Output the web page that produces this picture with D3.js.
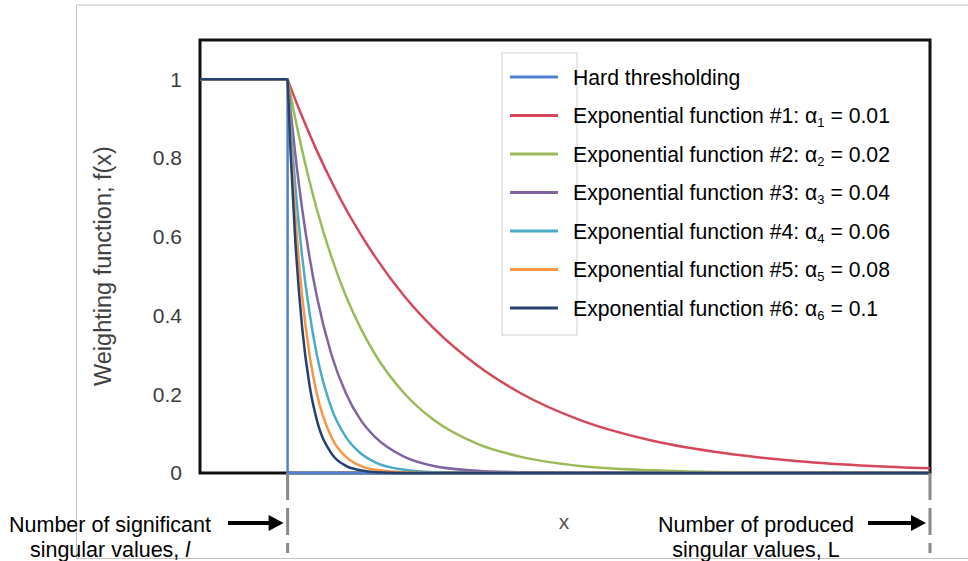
<!DOCTYPE html>
<html lang="en">
<head>
<meta charset="utf-8">
<title>Weighting function</title>
<script src="https://cdn.jsdelivr.net/npm/d3@7"></script>
<style>
  body { margin: 0; background: #fff; }
  svg { display: block; font-family: "Liberation Sans", Arial, sans-serif; }
</style>
</head>
<body>
<script>
// values
var yTicks = [0, 0.2, 0.4, 0.6, 0.8, 1];
var lSig = 60;      // number of significant singular values, l
var lAll = 500;     // number of produced singular values, L

var hardX = [0, 60, 60, 500];
var hardY = [1, 1, 0, 0];

var flatX = [0, 60];
var decayX = [60, 62, 65, 70, 75, 80, 90, 100, 110, 120, 140, 160, 190, 220, 260, 310, 360, 410, 460, 500];

var exp1 = [1, 0.980, 0.951, 0.905, 0.861, 0.819, 0.741, 0.670, 0.607, 0.549, 0.449, 0.368, 0.273, 0.202, 0.135, 0.082, 0.050, 0.030, 0.018, 0.012];
var exp2 = [1, 0.961, 0.905, 0.819, 0.741, 0.670, 0.549, 0.449, 0.368, 0.301, 0.202, 0.135, 0.074, 0.041, 0.018, 0.007, 0.002, 0.001, 0, 0];
var exp3 = [1, 0.923, 0.819, 0.670, 0.549, 0.449, 0.301, 0.202, 0.135, 0.091, 0.041, 0.018, 0.006, 0.002, 0, 0, 0, 0, 0, 0];
var exp4 = [1, 0.887, 0.741, 0.549, 0.407, 0.301, 0.165, 0.091, 0.050, 0.027, 0.008, 0.002, 0, 0, 0, 0, 0, 0, 0, 0];
var exp5 = [1, 0.852, 0.670, 0.449, 0.301, 0.202, 0.091, 0.041, 0.018, 0.008, 0.002, 0, 0, 0, 0, 0, 0, 0, 0, 0];
var exp6 = [1, 0.819, 0.607, 0.368, 0.223, 0.135, 0.050, 0.018, 0.007, 0.002, 0, 0, 0, 0, 0, 0, 0, 0, 0, 0];

var expSeries = [exp1, exp2, exp3, exp4, exp5, exp6];
var subs = ['1', '2', '3', '4', '5', '6'];
var alphas = ['0.01', '0.02', '0.04', '0.06', '0.08', '0.1'];
var colors = ['#4f81d0', '#d6475a', '#9bbb59', '#8064a2', '#4bacc6', '#f79646', '#24416f'];

var W = 968, H = 561;
var svg = d3.select('body').append('svg').attr('width', W).attr('height', H);

// outer light frame
svg.append('path')
  .attr('d', 'M968,5 H76.5 V558.5 H968')
  .attr('fill', 'none').attr('stroke', '#c4c4c4').attr('stroke-width', 1);

var x = d3.scaleLinear().domain([0, lAll]).range([200, 930]);
var y = d3.scaleLinear().domain([0, 1.1]).range([473, 40]);

// plot frame
svg.append('rect')
  .attr('x', x(0)).attr('y', y(1.1))
  .attr('width', x(lAll) - x(0)).attr('height', y(0) - y(1.1))
  .attr('fill', 'none').attr('stroke', '#111').attr('stroke-width', 3);

// y axis labels
var yAxis = svg.append('g')
  .attr('transform', 'translate(' + x(0) + ',0)')
  .call(d3.axisLeft(y).tickValues(yTicks).tickSize(0).tickPadding(18).tickFormat(d3.format('~g')));
yAxis.select('.domain').remove();
yAxis.selectAll('text')
  .attr('font-size', 21).attr('fill', '#3c3c3c')
  .attr('font-family', '"Liberation Sans", Arial, sans-serif');

svg.append('text')
  .attr('transform', 'translate(111,266) rotate(-90)')
  .attr('text-anchor', 'middle')
  .attr('font-size', 23.5).attr('fill', '#404040')
  .text('Weighting function; f(x)');

// curves
var straight = d3.line().x(function(d) { return x(d[0]); }).y(function(d) { return y(d[1]); });
var smooth = d3.line().x(function(d) { return x(d[0]); }).y(function(d) { return y(d[1]); })
  .curve(d3.curveMonotoneX);

svg.append('path')
  .attr('d', straight(d3.zip(hardX, hardY)))
  .attr('fill', 'none').attr('stroke', colors[0]).attr('stroke-width', 2.5);

expSeries.forEach(function(s, i) {
  var d = straight(flatX.map(function(v) { return [v, 1]; })) + smooth(d3.zip(decayX, s));
  svg.append('path')
    .attr('d', d)
    .attr('fill', 'none').attr('stroke', colors[i + 1]).attr('stroke-width', 2.5)
    .attr('stroke-linejoin', 'round');
});

// legend
var legend = svg.append('g');
legend.append('rect')
  .attr('x', 502).attr('y', 53).attr('width', 75).attr('height', 282)
  .attr('fill', 'none').attr('stroke', '#cfcfcf').attr('stroke-width', 1);

var labels = ['Hard thresholding'].concat(subs.map(function(s) { return 'Exponential function #' + s + ': α'; }));
labels.forEach(function(lab, i) {
  var ly = 77 + i * 38.5;
  legend.append('line')
    .attr('x1', 510).attr('x2', 558).attr('y1', ly).attr('y2', ly)
    .attr('stroke', colors[i]).attr('stroke-width', 3);
  var t = legend.append('text')
    .attr('x', 573).attr('y', ly + 7.5)
    .attr('font-size', 21.2).attr('fill', '#000');
  t.append('tspan').text(lab);
  if (i > 0) {
    t.append('tspan').attr('font-size', 13).attr('dy', 4).text(subs[i - 1]);
    t.append('tspan').attr('dy', -4).text(' = ' + alphas[i - 1]);
  }
});

// markers for l and L below the axis
[lSig, lAll].forEach(function(v) {
  svg.append('line')
    .attr('x1', x(v)).attr('x2', x(v)).attr('y1', 473).attr('y2', 553)
    .attr('stroke', '#8a8a8a').attr('stroke-width', 3)
    .attr('stroke-dasharray', '27 8');
});

function arrow(x0, x1, ay) {
  svg.append('line')
    .attr('x1', x0).attr('x2', x1 - 12).attr('y1', ay).attr('y2', ay)
    .attr('stroke', '#000').attr('stroke-width', 4);
  svg.append('path')
    .attr('d', 'M' + x1 + ',' + ay + 'L' + (x1 - 15) + ',' + (ay - 8) + 'L' + (x1 - 15) + ',' + (ay + 8) + 'Z')
    .attr('fill', '#000');
}
arrow(228, x(lSig) - 4, 523);
arrow(868, x(lAll) - 4, 523);

function note(cx, line1, line2, sym, italic) {
  svg.append('text').attr('x', cx).attr('y', 532).attr('text-anchor', 'middle')
    .attr('font-size', 21.5).attr('fill', '#000').text(line1);
  var t = svg.append('text').attr('x', cx).attr('y', 557).attr('text-anchor', 'middle')
    .attr('font-size', 21.5).attr('fill', '#000');
  t.append('tspan').text(line2);
  t.append('tspan').attr('font-style', italic ? 'italic' : 'normal').text(sym);
}
note(110, 'Number of significant', 'singular values, ', 'l', true);
note(756, 'Number of produced', 'singular values, ', 'L', false);

svg.append('text').attr('x', 564).attr('y', 529).attr('text-anchor', 'middle')
  .attr('font-size', 21).attr('fill', '#555').text('x');
</script>
</body>
</html>
